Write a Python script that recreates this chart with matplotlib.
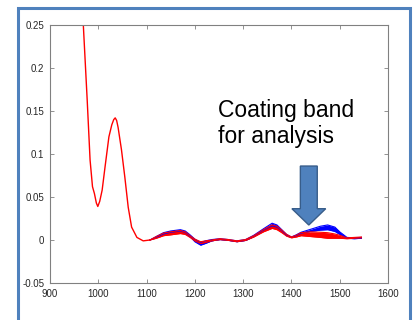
import matplotlib
matplotlib.use("Agg")
import matplotlib.pyplot as plt
from matplotlib.patches import Rectangle, FancyArrow

# spectrum where all samples overlap (single red trace)
wl_common = [966, 969, 977, 983, 988, 992, 996, 999, 1003, 1008, 1014, 1022, 1028,
             1032, 1035, 1038, 1041, 1048, 1055, 1062, 1069, 1080, 1093, 1107]
spec_common = [0.29, 0.25, 0.163, 0.093, 0.062, 0.054, 0.043, 0.039, 0.045, 0.058,
               0.085, 0.120, 0.134, 0.140, 0.142, 0.139, 0.131, 0.105, 0.073, 0.038,
               0.015, 0.003, -0.001, 0.000]

# region where the two sample groups spread into bands
wl_band = [1107, 1120, 1135, 1150, 1170, 1180, 1190, 1200, 1212, 1222, 1235, 1252,
           1270, 1287, 1305, 1322, 1342, 1360, 1370, 1380, 1390, 1400, 1410, 1420,
           1440, 1460, 1475, 1490, 1500, 1515, 1530, 1545]
red_lo = [0.000, 0.002, 0.005, 0.006, 0.0075, 0.0065, 0.003, -0.001, -0.004, -0.003,
          -0.001, 0.0005, -0.0005, -0.002, -0.0005, 0.0035, 0.0095, 0.0135, 0.012,
          0.0085, 0.0045, 0.0025, 0.0035, 0.005, 0.004, 0.003, 0.002, 0.002, 0.002,
          0.0015, 0.002, 0.0025]
red_hi = [0.000, 0.004, 0.008, 0.0095, 0.011, 0.0095, 0.005, 0.001, -0.002, -0.001,
          0.000, 0.0015, 0.0005, -0.001, 0.0005, 0.005, 0.012, 0.0175, 0.016, 0.0115,
          0.0065, 0.0035, 0.0055, 0.0085, 0.0095, 0.009, 0.0085, 0.007, 0.0055,
          0.0025, 0.003, 0.0035]
blue_lo = [0.000, 0.003, 0.007, 0.009, 0.0105, 0.009, 0.004, -0.002, -0.006, -0.004,
           -0.001, 0.0005, -0.0005, -0.002, -0.0005, 0.004, 0.0115, 0.0165, 0.015,
           0.011, 0.005, 0.003, 0.005, 0.008, 0.010, 0.0115, 0.012, 0.010, 0.0065,
           0.002, 0.0015, 0.002]
blue_hi = [0.000, 0.004, 0.0085, 0.0105, 0.012, 0.0105, 0.006, 0.001, -0.003, -0.001,
           0.0005, 0.0015, 0.0005, -0.001, 0.0005, 0.0055, 0.013, 0.0195, 0.0175,
           0.012, 0.0065, 0.0035, 0.006, 0.009, 0.0125, 0.016, 0.0175, 0.015, 0.0095,
           0.003, 0.0025, 0.003]

xticks = [900, 1000, 1100, 1200, 1300, 1400, 1500, 1600]
yticks = [-0.05, 0, 0.05, 0.1, 0.15, 0.2, 0.25]
ytick_labels = ["-0.05", "0", "0.05", "0.1", "0.15", "0.2", "0.25"]

plt.rcParams["font.family"] = ["Liberation Sans", "DejaVu Sans"]

fig = plt.figure(figsize=(4.19, 3.2), dpi=100)
fig.patch.set_facecolor("white")

# slide-style blue frame
fig.patches.append(Rectangle((17.5 / 419, -0.05), (410 - 17.5) / 419, 1.05 - 7.5 / 320,
                             transform=fig.transFigure, fill=False,
                             edgecolor="#4F81BD", linewidth=2.2))

ax = fig.add_axes([50 / 419, 1 - 283 / 320, 338 / 419, 258 / 320])

ax.fill_between(wl_band, blue_lo, blue_hi, color="blue", linewidth=0)
ax.plot(wl_band, blue_lo, color="blue", lw=0.8)
ax.plot(wl_band, blue_hi, color="blue", lw=0.8)
ax.fill_between(wl_band, red_lo, red_hi, color="red", linewidth=0)
ax.plot(wl_band, red_lo, color="red", lw=0.8)
ax.plot(wl_band, red_hi, color="red", lw=0.8)
ax.plot(wl_common, spec_common, color="red", lw=1.0)

ax.set_xlim(900, 1600)
ax.set_ylim(-0.05, 0.25)
ax.set_xticks(xticks)
ax.set_yticks(yticks)
ax.set_yticklabels(ytick_labels)
ax.tick_params(direction="in", length=3, width=0.6, color="#808080",
               labelsize=7, labelcolor="#262626", top=True, right=True, pad=4)
for s in ax.spines.values():
    s.set_color("#808080")
    s.set_linewidth(0.8)

ax.text(0.497, 0.715, "Coating band\nfor analysis", transform=ax.transAxes,
        fontsize=16.5, color="black", va="top", ha="left", linespacing=1.2)

ax.add_patch(FancyArrow(1436, 0.086, 0, -0.0686, width=35, head_width=70,
                        head_length=0.019, length_includes_head=True,
                        facecolor="#4F81BD", edgecolor="#385D8A", linewidth=1,
                        zorder=5))

fig.savefig("out.png", dpi=100)
